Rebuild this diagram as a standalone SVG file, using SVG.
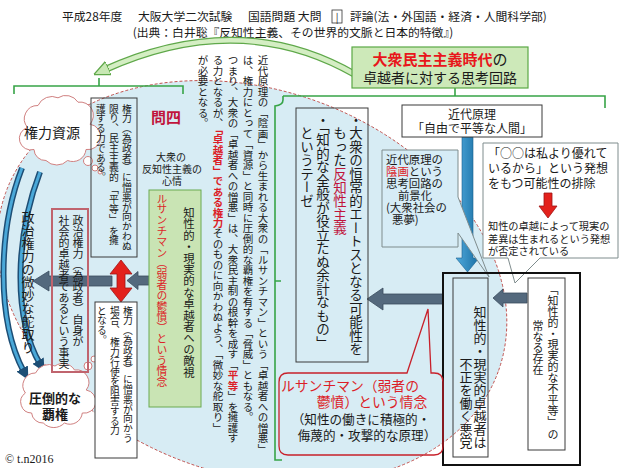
<svg xmlns="http://www.w3.org/2000/svg" width="624" height="468" viewBox="0 0 624 468">
<defs>
<style>
text{font-family:"Noto Sans CJK JP","Noto Sans CJK SC",sans-serif;fill:#1a1a1a}
.v{writing-mode:vertical-rl}
.r{fill:#dc1e28}
.cr{fill:#c0143c}
.b{font-weight:bold}
.bx{fill:none;stroke:#3a3a3a;stroke-width:1}
.wbx{fill:#fff;stroke:#3a3a3a;stroke-width:1}
.bkt{fill:none;stroke:#37a447;stroke-width:1.6}
.cloud{fill:#fff;stroke:#d08080;stroke-width:1}
.slate{fill:#54697d;stroke:#3b4d5e;stroke-width:.8}
.redarrow{fill:#e3211c;stroke:#a01515;stroke-width:.8}
</style>
<marker id="mBlue" viewBox="0 0 10 10" refX="3" refY="5" markerWidth="13" markerHeight="13" markerUnits="userSpaceOnUse" orient="auto"><path d="M0,0 L10,5 L0,10 Z" fill="#1d4e75"/></marker>
<marker id="mGreen" viewBox="0 0 10 10" refX="3" refY="5" markerWidth="16" markerHeight="16" markerUnits="userSpaceOnUse" orient="auto"><path d="M0,0.5 L10,5 L0,9.5 Z" fill="#c8e8b4" stroke="#5fa84a" stroke-width="0.8"/></marker>
<linearGradient id="gBlue" x1="0" y1="0" x2="1" y2="0"><stop offset="0" stop-color="#4fa9dc"/><stop offset="1" stop-color="#1a6fa3"/></linearGradient>
</defs>
<rect width="624" height="468" fill="#fff"/>
<g id="background-ellipse">
<ellipse cx="252" cy="282" rx="262" ry="192" transform="rotate(20 252 282)" fill="#d7ecf4" stroke="#c0504d" stroke-width="0.9" stroke-dasharray="3 2"/>
</g>
<g id="title">
<text x="62" y="21" font-size="11.8">平成28年度</text>
<text x="138" y="21" font-size="11.8">大阪大学二次試験</text>
<text x="248" y="21" font-size="11.8">国語問題 大問</text>
<rect x="332" y="10" width="10" height="13" fill="none" stroke="#333" stroke-width="0.8"/>
<text x="337" y="20.5" font-size="10" text-anchor="middle">|</text>
<text x="350" y="21" font-size="11.8">評論(法・外国語・経済・人間科学部)</text>
<text x="293" y="37" font-size="11.8" text-anchor="middle">(出典：白井聡『反知性主義、その世界的文脈と日本的特徴』)</text>
</g>
<g id="connectors">
<path d="M356,75 Q240,8 104,70" fill="none" stroke="#5fa84a" stroke-width="7"/>
<path d="M356,75 Q240,8 104,70" fill="none" stroke="#d4eec3" stroke-width="4.6" marker-end="url(#mGreen)"/>
<path class="bkt" d="M14,94 V86 H183 V94 M99,86 V78"/>
<path class="bkt" d="M283,96 H605 V108 M455,96 V88 M283,96 V100 Q283,105 275,106 V460 H282 M275,281 H281"/>
<path d="M22,168 C -2,230 -4,320 24,372" fill="none" stroke="#1d4e75" stroke-width="6"/>
<path d="M22,168 C -2,230 -4,320 24,372" fill="none" stroke="#4aa8d8" stroke-width="3" marker-end="url(#mBlue)"/>
<path d="M40,172 C 16,235 12,315 40,364" fill="none" stroke="#1d4e75" stroke-width="6"/>
<path d="M40,172 C 16,235 12,315 40,364" fill="none" stroke="#4aa8d8" stroke-width="3" marker-end="url(#mBlue)"/>
<path d="M462,137 H473 V258 H479 L467.5,272 L456,258 H462 Z" fill="url(#gBlue)" stroke="#17608e" stroke-width="0.6"/>
<path class="slate" d="M150,276 H138 V271.5 L127,280.5 L138,289.5 V285 H150 Z"/>
<path class="slate" d="M112,276 H49 V271 L33,281 L49,291 V286 H112 Z"/>
<path class="slate" d="M443,294 H383 V288 L367,299 L383,310 V304 H443 Z"/>
<path class="slate" d="M527,293 H503 V289 L493,298 L503,307 V303 H527 Z"/>
<path class="redarrow" d="M121,260 L132,274 H125 V288 H132 L121,302 L110,288 H117 V274 H110 Z"/>
<path class="redarrow" d="M182,279 H175 V275 L168,282 L175,289 V285 H182 Z"/>
</g>
<g id="cloud-resource">
<path class="cloud" d="M34,149.5 A11.4,11.4 0 0 1 27.6,127.5 A13.3,13.3 0 0 1 38,105.5 A15.2,15.2 0 0 1 58,97.8 A14.3,14.3 0 0 1 78,102.2 A13.3,13.3 0 0 1 90,124.2 A11.4,11.4 0 0 1 86,149.5 A13.3,13.3 0 0 1 67.6,160.5 A15.2,15.2 0 0 1 46,160.5 A11.4,11.4 0 0 1 34,149.5 Z"/>
<circle class="cloud" cx="88" cy="161" r="4.5"/>
<circle class="cloud" cx="95" cy="168" r="3"/>
<circle class="cloud" cx="100" cy="172" r="2"/>
<text x="52" y="138" font-size="14" text-anchor="middle">権力資源</text>
</g>
<g id="cloud-hegemony">
<path class="cloud" d="M31.6,413 A11,11 0 0 1 25.4,393 A12.5,12.5 0 0 1 35.5,373 A14.5,14.5 0 0 1 55,366 A13.5,13.5 0 0 1 74.5,370 A12.5,12.5 0 0 1 86.2,390 A11,11 0 0 1 82.3,413 A12.5,12.5 0 0 1 64.4,423 A14.5,14.5 0 0 1 43.3,423 A11,11 0 0 1 31.6,413 Z"/>
<circle class="cloud" cx="88" cy="366" r="4"/>
<circle class="cloud" cx="94" cy="359" r="3"/>
<circle class="cloud" cx="98" cy="353" r="2"/>
<text x="55" y="403" font-size="13" text-anchor="middle" class="b">圧倒的な</text>
<text x="55" y="419" font-size="13" text-anchor="middle" class="b">覇権</text>
</g>
<g id="node-steering">
<text class="v" x="28" y="211" font-size="13">政治権力の微妙な舵取り</text>
</g>
<g id="node-protect">
<rect class="bx" x="91" y="98" width="46" height="159"/>
<text class="v" x="127" y="104" font-size="9.8">権力（為政者）に憎悪が向かわぬ</text>
<text class="v" x="114" y="104" font-size="9.8">限り、民主主義的 「平等」 を擁</text>
<text class="v" x="101" y="104" font-size="9.8">護する力である。</text>
</g>
<g id="node-fact">
<rect x="52" y="209" width="36" height="163" fill="none" stroke="#c0646e" stroke-width="2"/>
<text class="v" x="78" y="215" font-size="11">政治権力（為政者）自身が</text>
<text class="v" x="64" y="215" font-size="11">社会的卓越者であるという事実</text>
</g>
<g id="node-obstruct">
<rect class="wbx" x="95" y="302" width="42" height="156"/>
<text class="v" x="128" y="306" font-size="9.8">権力（為政者）に憎悪が向かう</text>
<text class="v" x="115" y="306" font-size="9.8">場合、 権力行使を阻害する力</text>
<text class="v" x="102" y="306" font-size="9.8">となる。</text>
</g>
<g id="label-q4">
<text x="166" y="123" font-size="15" text-anchor="middle" class="cr b">問四</text>
<text x="171" y="161" font-size="10" text-anchor="middle">大衆の</text>
<text x="172" y="172.5" font-size="10" text-anchor="middle">反知性主義の</text>
<text x="172" y="185" font-size="10" text-anchor="middle">心情</text>
</g>
<g id="node-ressentiment">
<rect x="149" y="190" width="52" height="217" fill="#c9e4b4" stroke="#6aaa50" stroke-width="1"/>
<text class="v" x="189" y="207" font-size="11.4">知性的・現実的な卓越者への敵視</text>
<text class="v r" x="162" y="193" font-size="10.8">ルサンチマン（弱者の鬱憤）という情念</text>
</g>
<g id="node-paragraph">
<text class="v" x="263" y="55" font-size="10.5">近代原理の「陰画」から生まれる大衆の「ルサンチマン」という「卓越者への憎悪」</text>
<text class="v" x="248" y="55" font-size="10.5">は、権力にとって「資源」と同時に圧倒的な覇権を有する「脅威」ともなる。</text>
<text class="v" x="233" y="55" font-size="10.5">つまり、大衆の「卓越者への憎悪」は、大衆民主制の根幹を成す「<tspan class="r b">平等</tspan>」を擁護す</text>
<text class="v" x="218" y="55" font-size="10.5">る力となるが、<tspan class="r b">「卓越者」である権力</tspan>そのものに向かわぬよう、「微妙な舵取り」</text>
<text class="v" x="203" y="55" font-size="10.5">が必要となる。</text>
</g>
<g id="node-title">
<rect x="352" y="47" width="176" height="41" fill="#cde9b9" stroke="#5aa845" stroke-width="1.2"/>
<text x="440" y="65" font-size="15" text-anchor="middle"><tspan fill="#e8161b" font-weight="bold">大衆民主主義時代</tspan>の</text>
<text x="440" y="83" font-size="14" text-anchor="middle">卓越者に対する思考回路</text>
</g>
<g id="node-thesis">
<rect class="bx" x="296" y="108" width="72" height="254"/>
<text class="v" x="356" y="113" font-size="13.5">・大衆の恒常的エートスとなる可能性を</text>
<text class="v" x="340" y="126.5" font-size="13.5">もった<tspan class="cr">反知性主義</tspan></text>
<text class="v" x="323" y="113" font-size="13.5">・「知的な全般が役立たぬ余計なもの」</text>
<text class="v" x="307" y="126.5" font-size="13.5">というテーゼ</text>
</g>
<g id="node-modern">
<rect class="wbx" x="402" y="105" width="140" height="32"/>
<text x="472" y="119" font-size="12" text-anchor="middle">近代原理</text>
<text x="472" y="133" font-size="12" text-anchor="middle">「自由で平等な人間」</text>
</g>
<g id="node-negative">
<path d="M382,150 H458 V197 L489,277 L458,233 V247 H382 Z" fill="#d6ecf6" stroke="#7f8c8d" stroke-width="1"/>
<text x="386" y="164" font-size="11.4">近代原理の</text>
<text x="386" y="176" font-size="11.4"><tspan class="r">陰画</tspan>という</text>
<text x="386" y="188" font-size="11.4">思考回路の</text>
<text x="415" y="200" font-size="11.4" text-anchor="middle">前景化</text>
<text x="386" y="212" font-size="11.4">(大衆社会の</text>
<text x="392" y="224" font-size="11.4">悪夢)</text>
</g>
<g id="node-exclusion">
<path d="M483,143 H618 V258 H540 L515,283 L508,258 H483 Z" fill="#fff" stroke="#7f8c8d" stroke-width="1"/>
<text x="488" y="158" font-size="12">「○○は私より優れて</text>
<text x="488" y="173" font-size="12">いるから」という発想</text>
<text x="488" y="188" font-size="12">をもつ可能性の排除</text>
<path class="redarrow" d="M544,193 H552 V206 H557 L548,218 L539,206 H544 Z"/>
<text x="488" y="230" font-size="10.2">知性の卓越によって現実の</text>
<text x="488" y="242.5" font-size="10.2">差異は生まれるという発想</text>
<text x="488" y="255" font-size="10.2">が否定されている</text>
</g>
<g id="node-villain">
<rect x="443" y="273" width="137" height="192" fill="none" stroke="#111" stroke-width="2"/>
<rect class="bx" x="453" y="278" width="35" height="179"/>
<text class="v" x="480" y="449" font-size="13" text-anchor="end">知性的・現実的卓越者は</text>
<text class="v" x="466" y="449" font-size="13" text-anchor="end">不正を働く悪党</text>
</g>
<g id="node-inequality">
<rect class="wbx" x="528" y="278" width="37" height="172"/>
<text class="v" x="553" y="284" font-size="11">「知性的・現実的な不平等」 の</text>
<text class="v" x="538" y="320" font-size="11">常なる存在</text>
</g>
<g id="node-callout">
<path d="M290,373 H407 L428,309 L431,373 H434 Q443,373 443,382 V446 Q443,455 434,455 H288 Q279,455 279,446 V382 Q279,373 288,373 Z" fill="none" stroke="#c8202a" stroke-width="1.3"/>
<text x="281" y="391" font-size="13.8" class="r">ルサンチマン（弱者の</text>
<text x="372" y="407" font-size="13.8" class="r" text-anchor="middle">鬱憤）という情念</text>
<text x="361" y="424" font-size="12.6" text-anchor="middle">（知性の働きに積極的・</text>
<text x="367" y="440" font-size="12.6" text-anchor="middle">侮蔑的・攻撃的な原理）</text>
</g>
<text x="5" y="463" font-size="12" style="font-family:'Liberation Serif',serif">© t.n2016</text>
</svg>
